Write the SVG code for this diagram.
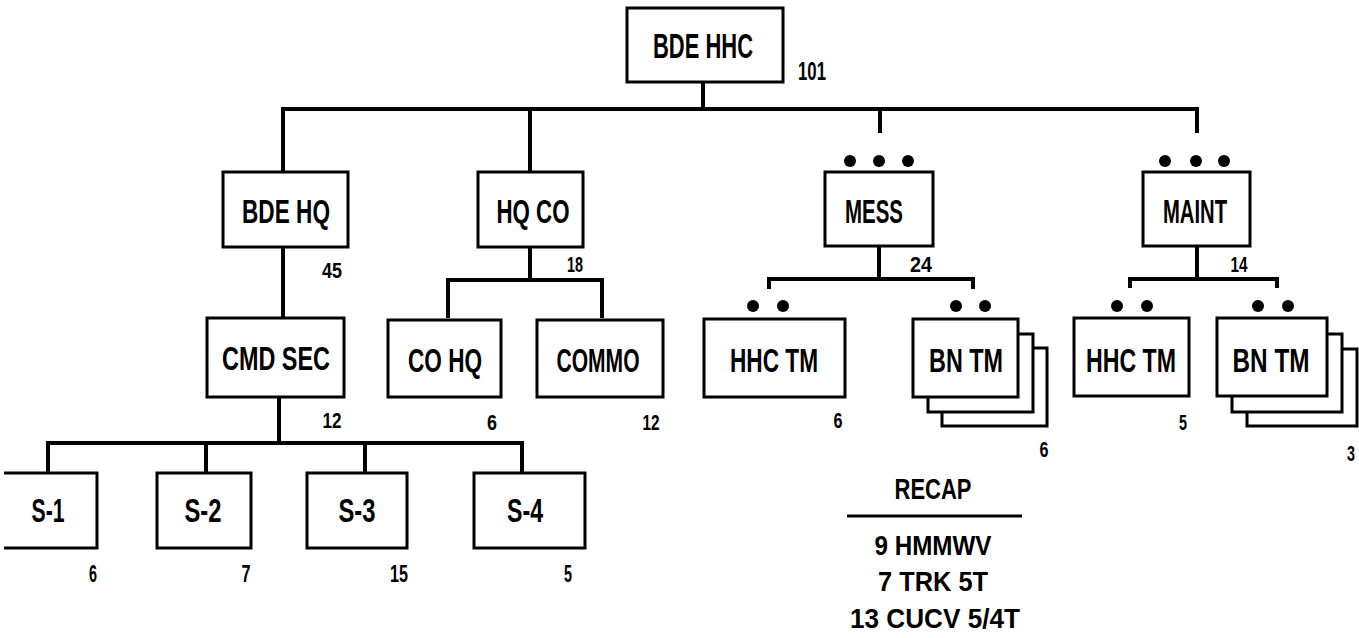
<svg xmlns="http://www.w3.org/2000/svg" width="1359" height="638" viewBox="0 0 1359 638">
<style>
.box{fill:#fff;stroke:#000;stroke-width:3}
.ln{fill:none;stroke:#000;stroke-width:4}
.t{font-family:"Liberation Sans",Arial,sans-serif;font-weight:bold;text-anchor:middle;fill:#000}
.lbl{font-size:34px}
.num{font-size:22px}
.dot{fill:#000}
</style>
<rect width="1359" height="638" fill="#fff"/>
<g id="connectors">
<path class="ln" d="M703,82 V109 M283,172 V109 H1197 V133 M530,109 V172 M880,109 V133"/>
<path class="ln" d="M283,247 V318"/>
<path class="ln" d="M530,247 V280 M448,318 V280 H602 V318"/>
<path class="ln" d="M279,397 V443 M48,473 V443 H522 V473 M206,443 V473 M365,443 V473"/>
<path class="ln" d="M879,246 V279 M769,289 V279 H973 V289"/>
<path class="ln" d="M1197,246 V279 M1130,288 V279 H1277 V288"/>
</g>
<g id="bde-hhc"><rect class="box" x="627" y="8" width="156" height="74"/><text class="t" x="703" y="58" font-size="35" textLength="100" lengthAdjust="spacingAndGlyphs">BDE HHC</text><text class="t" x="812" y="80" font-size="25" textLength="28" lengthAdjust="spacingAndGlyphs">101</text></g>
<g id="bde-hq"><rect class="box" x="223" y="172" width="125" height="75"/><text class="t lbl" x="286" y="223" textLength="88" lengthAdjust="spacingAndGlyphs">BDE HQ</text><text class="t num" x="332" y="278" textLength="20" lengthAdjust="spacingAndGlyphs">45</text></g>
<g id="hq-co"><rect class="box" x="478" y="172" width="105" height="75"/><text class="t lbl" x="533" y="223" textLength="73" lengthAdjust="spacingAndGlyphs">HQ CO</text><text class="t num" x="575" y="272" textLength="16" lengthAdjust="spacingAndGlyphs">18</text></g>
<g id="mess"><circle class="dot" cx="850" cy="161" r="6"/><circle class="dot" cx="879" cy="161" r="6"/><circle class="dot" cx="908" cy="161" r="6"/><rect class="box" x="825" y="172" width="108" height="74"/><text class="t lbl" x="874" y="223" textLength="58" lengthAdjust="spacingAndGlyphs">MESS</text><text class="t num" x="921" y="272" textLength="22" lengthAdjust="spacingAndGlyphs">24</text></g>
<g id="maint"><circle class="dot" cx="1165" cy="161" r="6"/><circle class="dot" cx="1196" cy="161" r="6"/><circle class="dot" cx="1224" cy="161" r="6"/><rect class="box" x="1143" y="172" width="107" height="74"/><text class="t lbl" x="1195" y="223" textLength="64" lengthAdjust="spacingAndGlyphs">MAINT</text><text class="t num" x="1239" y="272" textLength="17" lengthAdjust="spacingAndGlyphs">14</text></g>
<g id="cmd-sec"><rect class="box" x="207" y="318" width="137" height="79"/><text class="t lbl" x="276" y="370" textLength="108" lengthAdjust="spacingAndGlyphs">CMD SEC</text><text class="t num" x="332" y="428" textLength="19" lengthAdjust="spacingAndGlyphs">12</text></g>
<g id="co-hq"><rect class="box" x="388" y="320" width="113" height="77"/><text class="t lbl" x="445" y="372" textLength="74" lengthAdjust="spacingAndGlyphs">CO HQ</text><text class="t num" x="492" y="430" textLength="10" lengthAdjust="spacingAndGlyphs">6</text></g>
<g id="commo"><rect class="box" x="537" y="320" width="126" height="77"/><text class="t lbl" x="598" y="372" textLength="83" lengthAdjust="spacingAndGlyphs">COMMO</text><text class="t num" x="651" y="430" textLength="17" lengthAdjust="spacingAndGlyphs">12</text></g>
<g id="mess-hhc-tm"><circle class="dot" cx="753" cy="306" r="6"/><circle class="dot" cx="783" cy="306" r="6"/><rect class="box" x="704" y="319" width="141" height="78"/><text class="t lbl" x="774" y="372" textLength="88" lengthAdjust="spacingAndGlyphs">HHC TM</text><text class="t num" x="838" y="428" textLength="9" lengthAdjust="spacingAndGlyphs">6</text></g>
<g id="mess-bn-tm"><rect class="box" x="942" y="348" width="105" height="78"/><rect class="box" x="928" y="334" width="105" height="78"/><circle class="dot" cx="956" cy="306" r="6"/><circle class="dot" cx="985" cy="306" r="6"/><rect class="box" x="913" y="319" width="105" height="78"/><text class="t lbl" x="966" y="372" textLength="74" lengthAdjust="spacingAndGlyphs">BN TM</text><text class="t num" x="1044" y="457" textLength="9" lengthAdjust="spacingAndGlyphs">6</text></g>
<g id="maint-hhc-tm"><circle class="dot" cx="1117" cy="306" r="6"/><circle class="dot" cx="1147" cy="306" r="6"/><rect class="box" x="1074" y="318" width="115" height="78"/><text class="t lbl" x="1131" y="372" textLength="90" lengthAdjust="spacingAndGlyphs">HHC TM</text><text class="t num" x="1183" y="430" textLength="8" lengthAdjust="spacingAndGlyphs">5</text></g>
<g id="maint-bn-tm"><rect class="box" x="1247" y="349" width="110" height="77"/><rect class="box" x="1232" y="334" width="110" height="78"/><circle class="dot" cx="1258" cy="306" r="6"/><circle class="dot" cx="1288" cy="306" r="6"/><rect class="box" x="1217" y="318" width="110" height="78"/><text class="t lbl" x="1271" y="372" textLength="77" lengthAdjust="spacingAndGlyphs">BN TM</text><text class="t num" x="1351" y="461" textLength="8" lengthAdjust="spacingAndGlyphs">3</text></g>
<g id="s1"><path class="box" d="M4,473 H97 V548 H4"/><text class="t lbl" x="48" y="522" textLength="33" lengthAdjust="spacingAndGlyphs">S-1</text><text class="t" x="93" y="582" font-size="24" textLength="8" lengthAdjust="spacingAndGlyphs">6</text></g>
<g id="s2"><rect class="box" x="157" y="473" width="94" height="75"/><text class="t lbl" x="203" y="522" textLength="37" lengthAdjust="spacingAndGlyphs">S-2</text><text class="t" x="246" y="582" font-size="24" textLength="9" lengthAdjust="spacingAndGlyphs">7</text></g>
<g id="s3"><rect class="box" x="307" y="473" width="100" height="75"/><text class="t lbl" x="357" y="522" textLength="37" lengthAdjust="spacingAndGlyphs">S-3</text><text class="t" x="399" y="582" font-size="24" textLength="18" lengthAdjust="spacingAndGlyphs">15</text></g>
<g id="s4"><rect class="box" x="474" y="473" width="111" height="75"/><text class="t lbl" x="525" y="522" textLength="36" lengthAdjust="spacingAndGlyphs">S-4</text><text class="t" x="568" y="582" font-size="24" textLength="8" lengthAdjust="spacingAndGlyphs">5</text></g>
<g id="recap">
<text class="t" x="933" y="499" font-size="29" textLength="77" lengthAdjust="spacingAndGlyphs">RECAP</text>
<line x1="847" y1="516" x2="1022" y2="516" stroke="#000" stroke-width="3"/>
<text class="t" x="933" y="555" font-size="28" textLength="117" lengthAdjust="spacingAndGlyphs">9 HMMWV</text>
<text class="t" x="933" y="591" font-size="28" textLength="110" lengthAdjust="spacingAndGlyphs">7 TRK 5T</text>
<text class="t" x="935" y="628" font-size="28" textLength="170" lengthAdjust="spacingAndGlyphs">13 CUCV 5/4T</text>
</g>
</svg>
